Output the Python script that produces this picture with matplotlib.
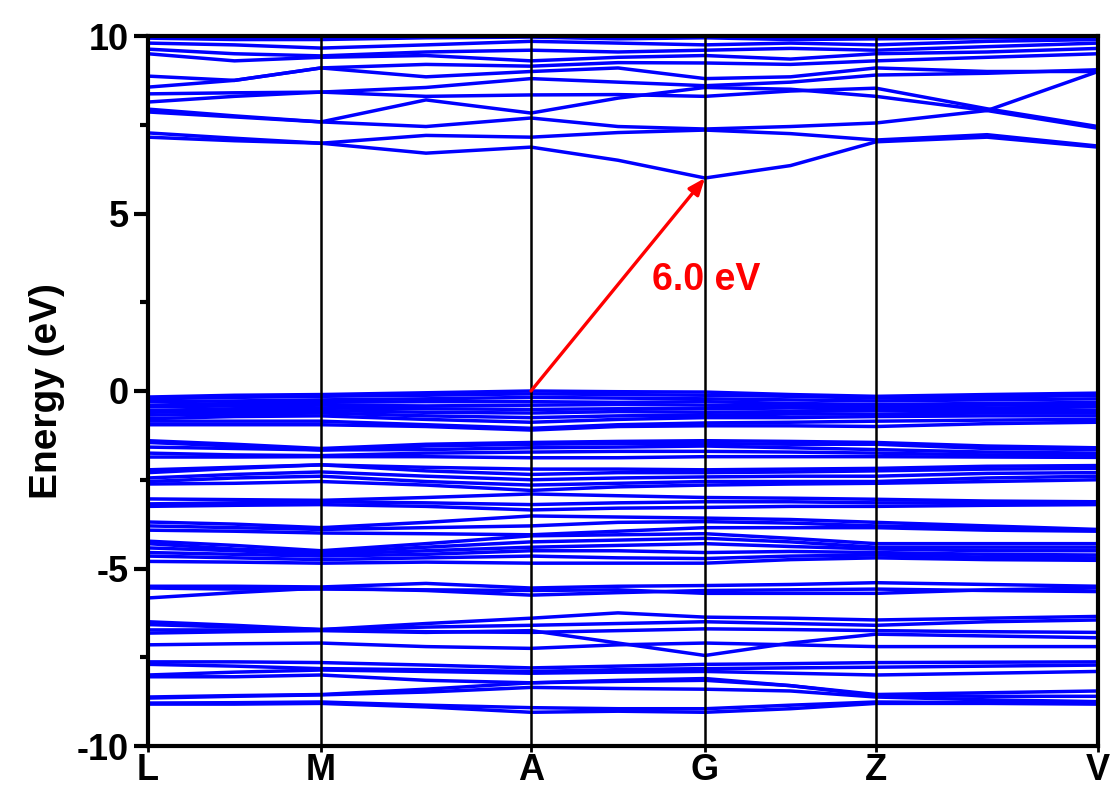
import numpy as np
import matplotlib.pyplot as plt

plt.rcParams['font.family'] = ['Liberation Sans', 'DejaVu Sans']
plt.rcParams['font.weight'] = 'bold'
plt.rcParams['axes.unicode_minus'] = False

# k-path (distance along path), high-symmetry points and midpoints
kpath = [0, 86.5, 173, 278, 383, 470, 557, 642.5, 728, 839, 950]
sym_k = [0, 173, 383, 557, 728, 950]
sym_labels = ['L', 'M', 'A', 'G', 'Z', 'V']

# conduction bands (eV) at kpath points
cond = [
    [7.15, 7.05, 6.98, 6.70, 6.87, 6.50, 6.00, 6.35, 7.02, 7.15, 6.87],
    [7.27, 7.12, 6.98, 7.20, 7.15, 7.28, 7.35, 7.25, 7.07, 7.22, 6.90],
    [7.86, 7.72, 7.58, 7.45, 7.69, 7.45, 7.38, 7.45, 7.55, 7.90, 9.00],
    [7.94, 7.75, 7.58, 8.20, 7.83, 8.25, 8.55, 8.50, 8.30, 7.90, 7.40],
    [8.14, 8.30, 8.42, 8.30, 8.34, 8.35, 8.30, 8.45, 8.53, 7.95, 7.45],
    [8.37, 8.40, 8.42, 8.55, 8.80, 8.70, 8.60, 8.70, 8.90, 8.95, 9.05],
    [8.56, 8.75, 9.10, 8.85, 9.00, 9.10, 8.80, 8.85, 9.10, 9.00, 9.00],
    [8.87, 8.75, 9.10, 9.20, 9.15, 9.25, 9.24, 9.20, 9.30, 9.40, 9.50],
    [9.50, 9.30, 9.40, 9.45, 9.30, 9.40, 9.45, 9.35, 9.50, 9.55, 9.65],
    [9.63, 9.50, 9.44, 9.55, 9.60, 9.55, 9.60, 9.65, 9.60, 9.70, 9.80],
    [9.80, 9.75, 9.66, 9.75, 9.85, 9.80, 9.75, 9.80, 9.75, 9.85, 9.90],
    [9.94, 9.90, 9.90, 9.95, 9.97, 9.92, 9.95, 9.90, 9.92, 9.95, 9.95],
]

# valence bands (eV)
val = [
    [-0.17, -0.12, -0.10, -0.05, 0.00, -0.02, -0.03, -0.10, -0.15, -0.10, -0.06],
    [-0.22, -0.18, -0.15, -0.12, -0.08, -0.10, -0.12, -0.15, -0.20, -0.18, -0.12],
    [-0.30, -0.28, -0.25, -0.22, -0.18, -0.20, -0.22, -0.25, -0.28, -0.25, -0.22],
    [-0.40, -0.35, -0.32, -0.30, -0.30, -0.32, -0.30, -0.35, -0.38, -0.35, -0.32],
    [-0.45, -0.42, -0.40, -0.42, -0.40, -0.38, -0.40, -0.42, -0.45, -0.40, -0.38],
    [-0.55, -0.50, -0.48, -0.50, -0.52, -0.50, -0.50, -0.48, -0.50, -0.48, -0.45],
    [-0.60, -0.58, -0.55, -0.60, -0.62, -0.58, -0.60, -0.58, -0.55, -0.55, -0.55],
    [-0.68, -0.65, -0.62, -0.70, -0.75, -0.70, -0.68, -0.65, -0.65, -0.62, -0.62],
    [-0.78, -0.72, -0.70, -0.80, -0.88, -0.80, -0.75, -0.75, -0.72, -0.70, -0.70],
    [-0.85, -0.85, -0.85, -0.95, -1.05, -0.95, -0.90, -0.88, -0.85, -0.82, -0.80],
    [-0.95, -0.95, -0.95, -1.00, -1.10, -1.00, -0.98, -0.98, -1.00, -0.92, -0.88],
    [-1.40, -1.50, -1.62, -1.50, -1.45, -1.42, -1.40, -1.42, -1.45, -1.55, -1.60],
    [-1.45, -1.55, -1.66, -1.55, -1.50, -1.48, -1.48, -1.50, -1.50, -1.62, -1.65],
    [-1.58, -1.62, -1.66, -1.65, -1.60, -1.58, -1.55, -1.60, -1.65, -1.72, -1.75],
    [-1.75, -1.80, -1.82, -1.75, -1.72, -1.70, -1.70, -1.72, -1.75, -1.80, -1.82],
    [-1.86, -1.86, -1.85, -1.85, -1.88, -1.88, -1.85, -1.85, -1.85, -1.86, -1.87],
    [-2.22, -2.15, -2.08, -2.15, -2.20, -2.20, -2.22, -2.20, -2.18, -2.12, -2.10],
    [-2.30, -2.18, -2.08, -2.25, -2.35, -2.30, -2.30, -2.28, -2.25, -2.20, -2.18],
    [-2.45, -2.35, -2.28, -2.40, -2.50, -2.45, -2.42, -2.40, -2.40, -2.32, -2.30],
    [-2.55, -2.45, -2.40, -2.55, -2.65, -2.60, -2.55, -2.55, -2.55, -2.45, -2.40],
    [-2.62, -2.60, -2.55, -2.65, -2.80, -2.70, -2.65, -2.62, -2.60, -2.55, -2.50],
    [-3.04, -3.06, -3.08, -3.00, -2.90, -2.95, -3.00, -3.02, -3.05, -3.10, -3.12],
    [-3.18, -3.15, -3.12, -3.15, -3.20, -3.15, -3.12, -3.12, -3.15, -3.15, -3.16],
    [-3.25, -3.22, -3.20, -3.25, -3.35, -3.30, -3.28, -3.25, -3.25, -3.22, -3.20],
    [-3.69, -3.75, -3.85, -3.70, -3.52, -3.55, -3.58, -3.62, -3.70, -3.80, -3.90],
    [-3.80, -3.85, -3.90, -3.85, -3.80, -3.70, -3.68, -3.72, -3.80, -3.85, -3.92],
    [-3.92, -3.95, -4.00, -4.02, -4.05, -3.95, -3.85, -3.85, -3.85, -3.92, -3.95],
    [-4.23, -4.35, -4.50, -4.30, -4.08, -4.05, -4.02, -4.15, -4.30, -4.30, -4.30],
    [-4.30, -4.45, -4.55, -4.40, -4.25, -4.20, -4.15, -4.25, -4.40, -4.40, -4.40],
    [-4.42, -4.50, -4.60, -4.50, -4.40, -4.35, -4.30, -4.38, -4.45, -4.50, -4.50],
    [-4.55, -4.60, -4.65, -4.60, -4.50, -4.50, -4.55, -4.52, -4.55, -4.60, -4.62],
    [-4.65, -4.70, -4.75, -4.70, -4.65, -4.70, -4.72, -4.65, -4.62, -4.68, -4.70],
    [-4.80, -4.82, -4.85, -4.82, -4.85, -4.85, -4.85, -4.75, -4.70, -4.75, -4.77],
    [-5.50, -5.50, -5.52, -5.42, -5.55, -5.50, -5.48, -5.45, -5.40, -5.45, -5.50],
    [-5.83, -5.68, -5.55, -5.62, -5.75, -5.68, -5.62, -5.60, -5.58, -5.62, -5.65],
    [-5.55, -5.58, -5.58, -5.60, -5.62, -5.60, -5.70, -5.70, -5.70, -5.60, -5.55],
    [-6.50, -6.60, -6.72, -6.55, -6.40, -6.25, -6.37, -6.40, -6.45, -6.40, -6.35],
    [-6.58, -6.65, -6.72, -6.65, -6.60, -6.55, -6.50, -6.55, -6.60, -6.50, -6.45],
    [-6.73, -6.73, -6.73, -6.78, -6.80, -6.75, -6.70, -6.72, -6.75, -6.78, -6.80],
    [-6.82, -6.78, -6.75, -6.80, -6.75, -7.10, -7.45, -7.10, -6.85, -6.90, -6.95],
    [-7.15, -7.12, -7.10, -7.20, -7.25, -7.15, -7.10, -7.15, -7.20, -7.20, -7.20],
    [-7.63, -7.63, -7.65, -7.72, -7.80, -7.75, -7.70, -7.68, -7.65, -7.64, -7.63],
    [-7.70, -7.75, -7.82, -7.85, -7.90, -7.85, -7.82, -7.80, -7.78, -7.75, -7.72],
    [-8.00, -7.92, -7.86, -7.90, -7.95, -7.92, -7.90, -7.95, -8.00, -7.95, -7.90],
    [-8.05, -8.05, -8.00, -8.15, -8.22, -8.15, -8.10, -8.30, -8.55, -8.50, -8.45],
    [-8.62, -8.58, -8.55, -8.40, -8.22, -8.18, -8.15, -8.30, -8.58, -8.60, -8.60],
    [-8.65, -8.60, -8.56, -8.48, -8.35, -8.38, -8.40, -8.45, -8.62, -8.70, -8.75],
    [-8.79, -8.78, -8.76, -8.85, -8.92, -8.95, -8.95, -8.85, -8.76, -8.78, -8.80],
    [-8.82, -8.82, -8.80, -8.90, -9.05, -9.02, -9.05, -8.95, -8.80, -8.80, -8.82],
]

gap = 6.0
vbm_k, cbm_k = 383, 557

fig = plt.figure(figsize=(11.13, 7.90), dpi=100)
ax = fig.add_axes([148/1113, 44/790, 950/1113, 710/790])

for band in cond + val:
    ax.plot(kpath, band, color='#0000FF', lw=2.5)

for k in sym_k[1:-1]:
    ax.axvline(k, color='black', lw=1.8, zorder=3)

ax.annotate('', xy=(cbm_k, gap), xytext=(vbm_k, 0.0),
            arrowprops=dict(arrowstyle='-|>,head_length=1.0,head_width=0.4',
                            color='#FF0000', lw=2.4, shrinkA=0, shrinkB=0),
            zorder=5)
ax.text(504, 3.13, '%.1f eV' % gap, color='#FF0000', fontsize=27,
        fontweight='bold', ha='left', va='center')

ax.set_xlim(sym_k[0], sym_k[-1])
ax.set_ylim(-10, 10)
ax.set_xticks(sym_k)
ax.set_xticklabels(sym_labels)
ax.set_yticks([-10, -5, 0, 5, 10])
ax.set_yticks([-7.5, -2.5, 2.5, 7.5], minor=True)
ax.tick_params(axis='y', which='major', direction='out', length=10, width=3,
               labelsize=26, pad=4)
ax.tick_params(axis='y', which='minor', direction='out', length=6, width=3)
ax.tick_params(axis='x', direction='out', length=4, width=2, labelsize=26, pad=1)
for lab in ax.get_xticklabels() + ax.get_yticklabels():
    lab.set_fontweight('bold')
ax.set_ylabel('Energy (eV)', fontsize=28, fontweight='bold', labelpad=8)
for s in ax.spines.values():
    s.set_linewidth(3)

fig.savefig('out.png', dpi=100)
